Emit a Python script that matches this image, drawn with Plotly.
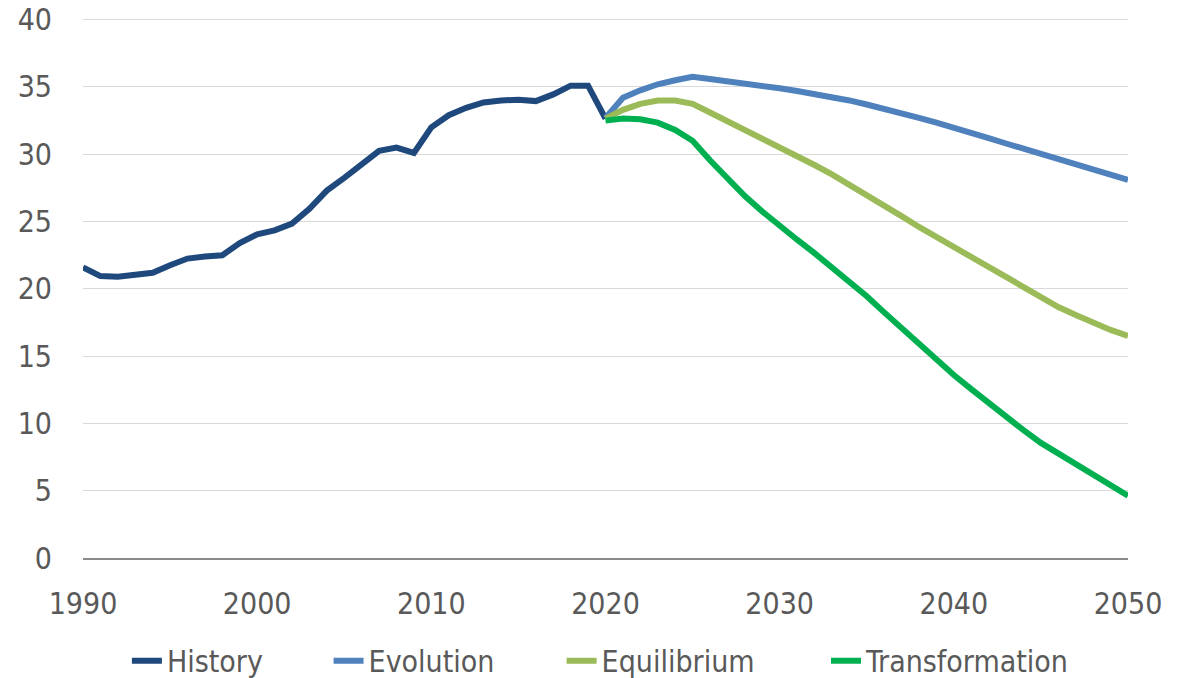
import plotly.graph_objects as go

# values
hist_years = list(range(1990, 2021))
history = [21.6, 20.95, 20.9, 21.0, 21.2, 21.75, 22.25, 22.4, 22.5, 23.4,
           24.05, 24.35, 24.85, 25.95, 27.3, 28.25, 29.2, 30.25, 30.5, 30.1,
           32.0, 32.9, 33.45, 33.85, 34.0, 34.05, 33.95, 34.45, 35.1, 35.1,
           32.65]

scen_years = list(range(2020, 2051))
evolution = [32.7, 34.2, 34.75, 35.2, 35.5, 35.75, 35.6, 35.45, 35.3, 35.1,
             34.9, 34.7, 34.5, 34.25, 34.0, 33.7, 33.4, 33.05, 32.7, 32.35,
             32.0, 31.6, 31.2, 30.8, 30.4, 30.05, 29.65, 29.25, 28.85, 28.45,
             28.1]
equilibrium = [32.65, 33.3, 33.75, 34.0, 34.0, 33.75, 33.1, 32.45, 31.8, 31.2,
               30.6, 29.9, 29.2, 28.5, 27.75, 27.0, 26.2, 25.4, 24.6, 23.85,
               23.05, 22.3, 21.55, 20.8, 20.05, 19.3, 18.65, 18.05, 17.45, 16.95,
               16.5]
transformation = [32.5, 32.65, 32.6, 32.35, 31.8, 31.0, 29.55, 28.2, 26.9, 25.75,
                  24.65, 23.65, 22.65, 21.6, 20.5, 19.45, 18.25, 17.05, 15.9, 14.75,
                  13.6, 12.55, 11.5, 10.5, 9.5, 8.55, 7.75, 6.95, 6.15, 5.4,
                  4.63]

font_family = "DejaVu Sans Condensed, Liberation Sans, sans-serif"
text_color = "#595959"

# one legend per series so the entries can be spread like the original
series = [
    ("History", hist_years, history, "#1F497D", "legend", 0.042),
    ("Evolution", scen_years, evolution, "#4F81BD", "legend2", 0.235),
    ("Equilibrium", scen_years, equilibrium, "#9BBB59", "legend3", 0.458),
    ("Transformation", scen_years, transformation, "#00B050", "legend4", 0.711),
]

fig = go.Figure()
legends = {}
for name, xs, ys, color, leg, lx in series:
    fig.add_trace(go.Scatter(x=xs, y=ys, name=name, mode="lines", legend=leg,
                             line=dict(color=color, width=6)))
    legends[leg] = dict(orientation="h", x=lx, xanchor="left", y=-0.19, yanchor="middle",
                        font=dict(size=30, color=text_color), bgcolor="rgba(0,0,0,0)")

fig.update_layout(
    width=1186, height=678,
    margin=dict(l=83, r=58, t=17, b=120, autoexpand=False),
    paper_bgcolor="white", plot_bgcolor="white",
    font=dict(family=font_family, size=30, color=text_color),
    showlegend=True,
    **legends,
)
fig.update_xaxes(range=[1990, 2050], tickvals=[1990, 2000, 2010, 2020, 2030, 2040, 2050],
                 showgrid=False, zeroline=False, showline=True,
                 linecolor="#898989", linewidth=1.5, ticks="",
                 ticklabelstandoff=18, automargin=False, ticklabeloverflow="allow")
# small headroom above 40 so its gridline is drawn
fig.update_yaxes(range=[0, 40.2], tickvals=[0, 5, 10, 15, 20, 25, 30, 35, 40],
                 showgrid=True, gridcolor="#D9D9D9",
                 gridwidth=1.3, zeroline=False, showline=False, ticks="",
                 ticklabelstandoff=30, automargin=False, ticklabeloverflow="allow")

# drop the default page margin so the figure fills the window
fig.write_html("out.html", config={"displayModeBar": False},
               post_script="document.body.style.margin='0';")
